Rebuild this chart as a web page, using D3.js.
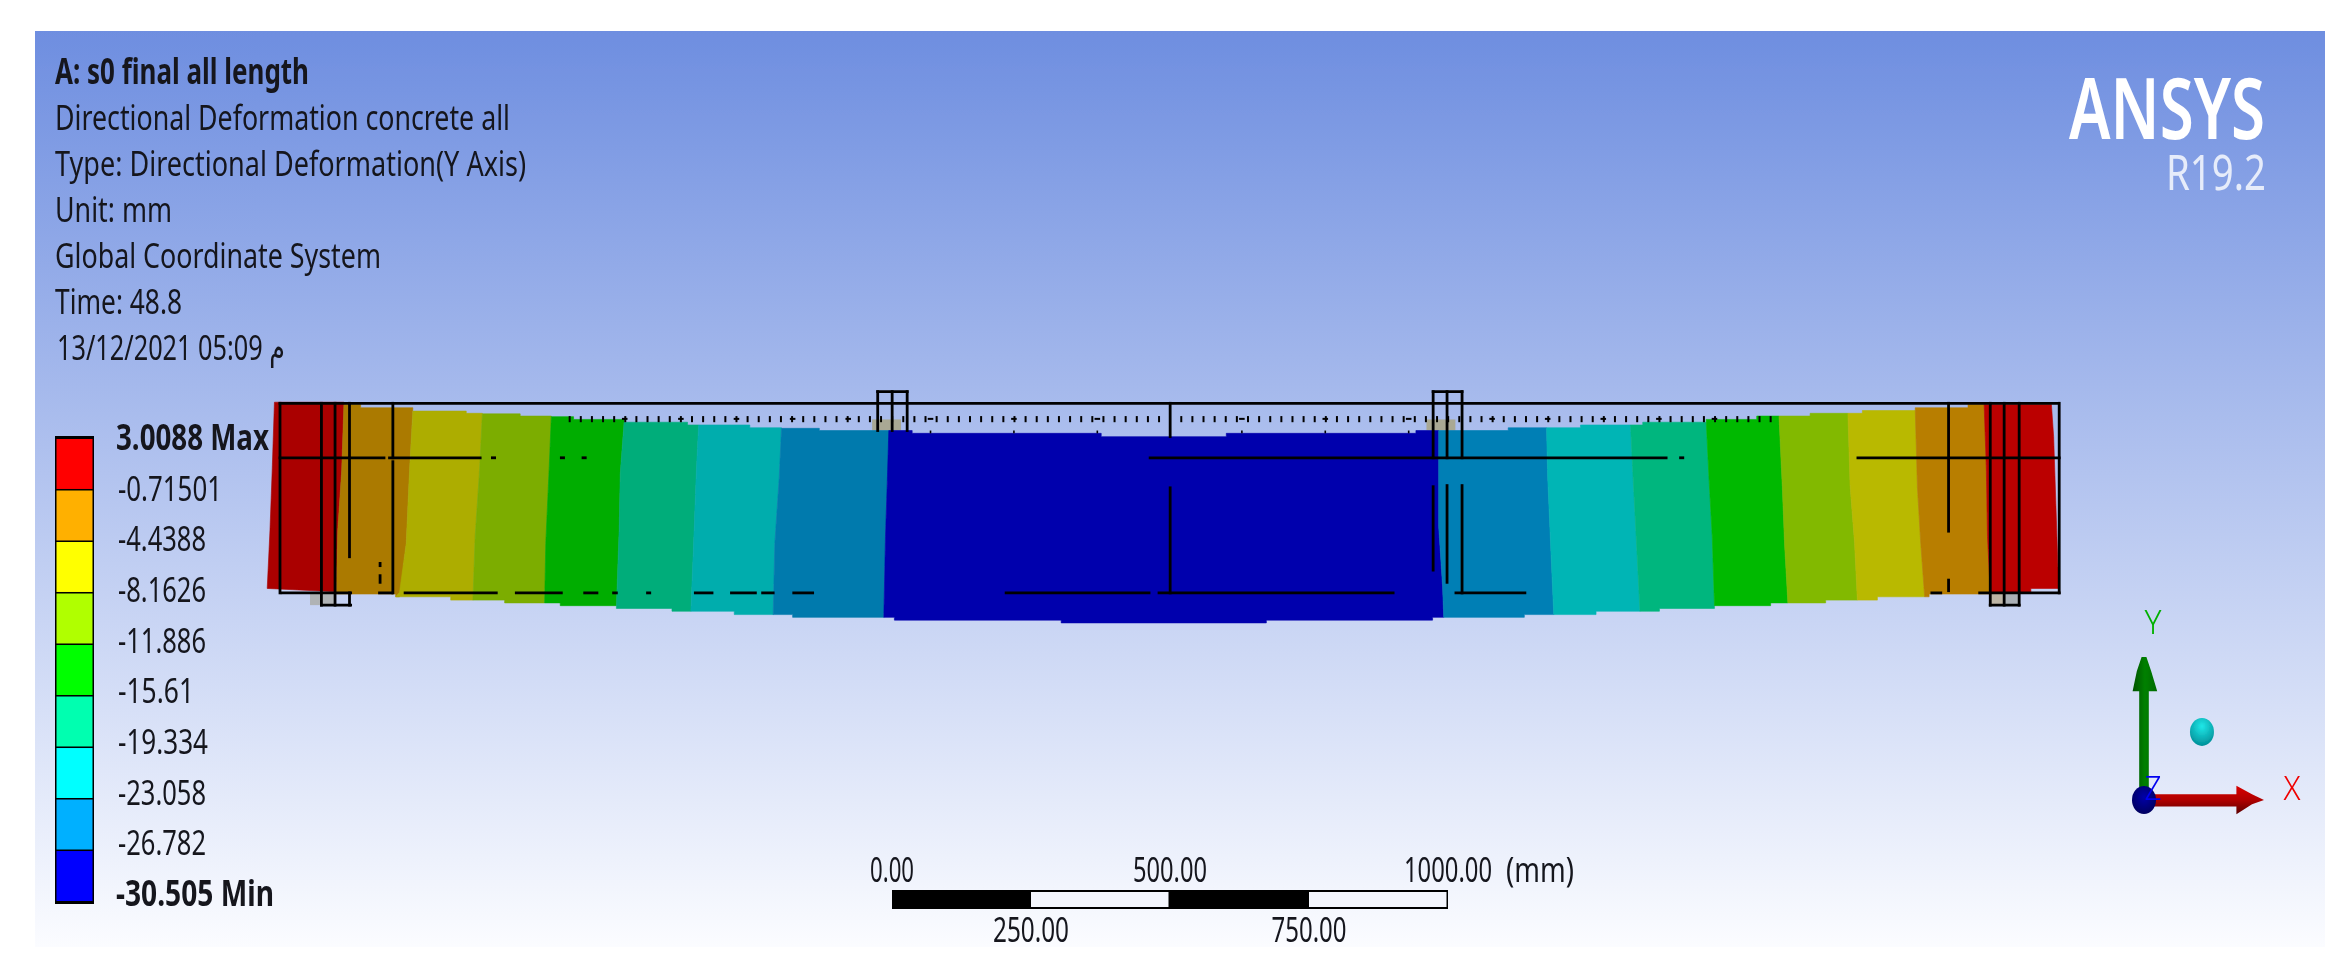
<!DOCTYPE html>
<html>
<head>
<meta charset="utf-8">
<style>
  html, body { margin: 0; padding: 0; background: #fff; }
  svg { display: block; }
  text { font-family: "Noto Sans", "DejaVu Sans", sans-serif; fill: #14161f; }
</style>
</head>
<body>
<script src="https://cdn.jsdelivr.net/npm/d3@7"></script>
<script>
'use strict';
// header text
const headerLines = ["A: s0 final all length", "Directional Deformation concrete all",
    "Type: Directional Deformation(Y Axis)", "Unit: mm", "Global Coordinate System",
    "Time: 48.8", "13/12/2021 05:09 م"];

// legend, top to bottom
const legendLabels = ["3.0088 Max", "-0.71501", "-4.4388", "-8.1626", "-11.886", "-15.61",
    "-19.334", "-23.058", "-26.782", "-30.505 Min"];
const legendColors = ["#ff0000", "#ffb000", "#ffff00", "#b0ff00", "#00ff00", "#00ffb0",
    "#00ffff", "#00b0ff", "#0000ff"];

// contour bands on the beam, left to right
const bandColors = ["#aa0000", "#ab7a00", "#adad00", "#7bad00", "#00ad00", "#00ad7a", "#00adad",
    "#007aad", "#0000ad", "#007fb5", "#00b5b5", "#00b67e", "#00b900", "#82b900", "#b9b900",
    "#b87e00", "#bb0000"];
// outlines as [mm along beam, mm below top line]
const bandOutlines = [
    [[-10,-2],[115,-2],[111,120],[104,228],[101,339],[-23,333],[-18,228],[-14,120]],
    [[115,2],[145,2],[145,8],[239,8],[233,120],[227,252],[215,348],[208,348],[208,343],[101,343],[104,228],[111,120]],
    [[239,14],[335,14],[335,18],[364,18],[359,120],[351,240],[347,354],[307,354],[307,348],[208,348],[215,340],[227,252],[233,120]],
    [[364,19],[432,19],[432,23],[488,23],[484,120],[478,252],[476,359],[404,359],[404,354],[347,354],[351,240],[359,120]],
    [[488,24],[528,24],[528,29],[619,29],[612,126],[610,228],[605,364],[504,364],[504,359],[476,359],[478,252],[484,120]],
    [[619,34],[733,34],[733,39],[753,39],[749,120],[743,276],[739,374],[705,374],[705,369],[605,369],[610,228],[612,126]],
    [[753,39],[845,39],[845,44],[902,44],[898,132],[890,252],[887,380],[817,380],[817,374],[739,374],[743,276],[749,120]],
    [[902,45],[970,45],[970,49],[1096,49],[1093,126],[1089,240],[1086,385],[922,385],[922,380],[887,380],[890,252],[898,132]],
    [[1095,49],[1137,49],[1137,54],[1477,54],[1477,60],[1702,60],[1702,54],[2043,54],[2043,49],[2084,49],[2084,222],[2091,330],[2093,385],[2073,385],[2073,390],[1774,390],[1774,395],[1405,395],[1405,390],[1105,390],[1105,385],[1086,385],[1089,240],[1092,150]],
    [[2084,49],[2209,49],[2209,44],[2278,44],[2280,132],[2286,270],[2291,380],[2238,380],[2238,385],[2093,385],[2091,330],[2084,222]],
    [[2278,44],[2339,44],[2339,39],[2429,39],[2433,120],[2441,276],[2446,374],[2367,374],[2367,380],[2291,380],[2286,270],[2280,132]],
    [[2429,39],[2451,39],[2451,34],[2565,34],[2570,132],[2576,240],[2580,369],[2481,369],[2481,374],[2446,374],[2441,276],[2433,120]],
    [[2565,29],[2656,29],[2656,23],[2696,23],[2702,150],[2706,252],[2712,359],[2681,359],[2681,364],[2580,364],[2576,240],[2570,132]],
    [[2696,23],[2752,23],[2752,18],[2820,18],[2824,150],[2832,252],[2837,354],[2780,354],[2780,359],[2712,359],[2706,252],[2702,150]],
    [[2820,18],[2846,18],[2846,13],[2941,13],[2945,150],[2951,252],[2958,348],[2873,348],[2873,354],[2837,354],[2832,252],[2824,150]],
    [[2941,8],[3036,8],[3036,2],[3065,2],[3069,120],[3071,240],[3076,343],[2966,343],[2966,348],[2958,348],[2951,252],[2945,150]],
    [[3065,2],[3186,2],[3190,60],[3194,180],[3199,333],[3149,333],[3149,340],[3076,340],[3071,240],[3069,120]]
];

// grey plates under the loading and support points: [x1, depth1, x2, depth2, colour]
const plates = [
    [54,343,99,363,"#b0b3b5"], [1065,29,1117,49,"#a9a894"], [2062,29,2114,49,"#a9a894"],
    [3076,343,3101,362,"#bdb5a5"], [3101,343,3128,362,"#abb0b5"]
];

// reinforcement and frame lines that show through: [x1, depth1, x2, depth2]
const rebarLines = [
    [0,0,3199,0], [0,0,0,341], [3200,0,3200,341],
    // middle bar
    [0,98,187,98], [197,98,360,98], [382,98,386,98], [506,98,510,98], [545,98,549,98],
    [1565,98,2493,98], [2519,98,2523,98], [2838,98,3200,98],
    // bottom bar, broken where the mesh hides it
    [4,341,127,341], [179,341,201,341], [225,341,389,341], [425,341,506,341], [548,341,570,341],
    [600,341,605,341], [661,341,665,341], [747,341,777,341], [812,341,855,341], [868,341,887,341],
    [924,341,958,341], [1306,341,1563,341], [1581,341,2002,341], [2115,341,2239,341],
    [2971,341,2987,341], [3057,341,3200,341],
    // verticals, left end
    [74.5,0,74.5,363], [99,0,99,363], [125,0,125,276], [125,341,125,363], [74.5,363,127,363],
    [203,0,203,98], [203,105,203,341], [180,288,180,292], [180,310,180,322],
    // loading plate, left
    [1075,-21,1128,-21], [1075,-21,1075,49], [1101,-21,1101,49], [1128,-21,1128,49],
    // centre line
    [1601,0,1601,60], [1601,152,1601,341],
    // loading plate, right
    [2074,-21,2126,-21], [2074,-21,2074,98], [2099,-21,2099,98], [2126,-21,2126,98],
    [2074,150,2074,300], [2099,148,2099,322], [2126,148,2126,341],
    // right end
    [3001,0,3001,230], [3001,318,3001,337], [3076,0,3076,363], [3101,0,3101,363], [3128,0,3128,363],
    [3076,363,3128,363]
];

// stirrup ticks along the top, mm
const stirrups = [521,541,561,581,601,621,641,661,681,701,721,741,761,781,801,821,841,861,881,901,
    921,941,961,981,1001,1021,1041,1061,1081,1101,1121,1141,1161,1181,1201,1221,1241,1261,1281,
    1301,1321,1341,1361,1381,1401,1421,1441,1461,1481,1501,1521,1541,1561,1581,1621,1641,1661,
    1681,1701,1721,1741,1761,1781,1801,1821,1841,1861,1881,1901,1921,1941,1961,1981,2001,2021,
    2041,2061,2081,2101,2121,2141,2161,2181,2201,2221,2241,2261,2281,2301,2321,2341,2361,2381,
    2401,2421,2441,2461,2481,2501,2521,2541,2561,2581,2601,2621,2641,2661,2681];
const stirrupMajors = [620,721,821,922,1022,1170,1320,1470,1730,1880,2030,2180,2280,2380,2480,2580];
const stirrupPins = [1170,1320,1470,1730,1880,2030];

// scale bar
const scaleTicks = [0, 250, 500, 750, 1000];
const scaleTickLabels = ["0.00", "250.00", "500.00", "750.00", "1000.00"];
const scaleUnit = "(mm)";

// orientation triad
const triadLabels = ["X", "Y", "Z"];

// --- layout, px in the 2347x975 frame ---
const width = 2347, height = 975;
const headerFit = [254, 455, 471, 117, 326, 127, 228];
const legendFit = [153, 104, 88, 88, 88, 76, 90, 88, 88, 158];
const scaleFit = [44, 76, 74, 75, 88];
const fontSize = 35;

const svg = d3.select("body").append("svg")
    .attr("width", width).attr("height", height);

const defs = svg.append("defs");
const bg = defs.append("linearGradient").attr("id", "bg")
    .attr("x1", 0).attr("y1", 0).attr("x2", 0).attr("y2", 1);
bg.append("stop").attr("offset", 0).attr("stop-color", "#6e8ee0");
bg.append("stop").attr("offset", 1).attr("stop-color", "#fbfcff");

function grad(id, stops, vertical) {
    const g = defs.append("linearGradient").attr("id", id)
        .attr("x1", 0).attr("y1", 0)
        .attr("x2", vertical ? 0 : 1).attr("y2", vertical ? 1 : 0);
    stops.forEach((c, i) => g.append("stop").attr("offset", i / (stops.length - 1)).attr("stop-color", c));
}
grad("yArrow", ["#005200", "#008000", "#006a00"], false);
grad("xArrow", ["#d80000", "#b00000", "#5a0000"], true);
const cy = defs.append("radialGradient").attr("id", "cyanBall").attr("cx", 0.5).attr("cy", 0.3).attr("r", 0.7);
cy.append("stop").attr("offset", 0).attr("stop-color", "#20e8e8");
cy.append("stop").attr("offset", 1).attr("stop-color", "#008f98");
const bl = defs.append("radialGradient").attr("id", "blueBall").attr("cx", 0.5).attr("cy", 0.4).attr("r", 0.6);
bl.append("stop").attr("offset", 0).attr("stop-color", "#0000a8");
bl.append("stop").attr("offset", 1).attr("stop-color", "#000060");

// the original is an upscaled screenshot, so everything is a little soft
defs.append("filter").attr("id", "soft").append("feGaussianBlur").attr("stdDeviation", 0.55);

const root = svg.append("g").attr("filter", "url(#soft)");

root.append("rect").attr("x", 35).attr("y", 31).attr("width", 2290).attr("height", 916)
    .attr("fill", "url(#bg)");

// header
root.append("g").selectAll("text").data(headerLines).enter().append("text")
    .attr("x", (d, i) => i == 6 ? 57 : 55)
    .attr("y", (d, i) => 83.5 + i * 46)
    .attr("font-size", fontSize)
    .attr("font-weight", (d, i) => i == 0 ? 700 : 400)
    .attr("textLength", (d, i) => headerFit[i])
    .attr("lengthAdjust", "spacingAndGlyphs")
    .text(d => d);

// logo
root.append("text").attr("x", 2265).attr("y", 139).attr("text-anchor", "end")
    .attr("font-size", 85).attr("font-weight", 600)
    .attr("textLength", 196).attr("lengthAdjust", "spacingAndGlyphs")
    .style("fill", "#fff").text("ANSYS");
root.append("text").attr("x", 2266).attr("y", 190).attr("text-anchor", "end")
    .attr("font-size", 50)
    .attr("textLength", 100).attr("lengthAdjust", "spacingAndGlyphs")
    .style("fill", "#e6ecfa").text("R19.2");

// legend bar
const legendY = d3.scaleBand().domain(legendColors).range([439, 901]).paddingInner(0.03);
root.append("rect").attr("x", 55).attr("y", 436).attr("width", 39).attr("height", 468).attr("fill", "#000");
root.append("g").selectAll("rect").data(legendColors).enter().append("rect")
    .attr("x", 56.5).attr("width", 36)
    .attr("y", d => legendY(d)).attr("height", legendY.bandwidth())
    .attr("fill", d => d);

const labelY = d3.scalePoint().domain(legendLabels).range([450, 906]);
root.append("g").selectAll("text").data(legendLabels).enter().append("text")
    .attr("x", (d, i) => (i == 0 || i == 9) ? 116 : 118)
    .attr("y", d => labelY(d))
    .attr("font-size", fontSize)
    .attr("font-weight", (d, i) => (i == 0 || i == 9) ? 700 : 400)
    .attr("textLength", (d, i) => legendFit[i])
    .attr("lengthAdjust", "spacingAndGlyphs")
    .text(d => d);

// beam, drawn in mm
const x = d3.scaleLinear().domain([0, 1000]).range([280, 836]);
const y = d3.scaleLinear().domain([0, 1000]).range([403.3, 959.3]);
const outline = d3.line().x(d => x(d[0])).y(d => y(d[1])).curve(d3.curveLinearClosed);

const beam = root.append("g");
beam.selectAll(".plate").data(plates).enter().append("rect").attr("class", "plate")
    .attr("x", d => x(d[0])).attr("y", d => y(d[1]))
    .attr("width", d => x(d[2]) - x(d[0])).attr("height", d => y(d[3]) - y(d[1]))
    .attr("fill", d => d[4]);
beam.selectAll(".band").data(bandOutlines).enter().append("path").attr("class", "band")
    .attr("d", outline)
    .attr("fill", (d, i) => bandColors[i])
    .attr("stroke", (d, i) => bandColors[i]).attr("stroke-width", 0.6);
beam.selectAll(".rebar").data(rebarLines).enter().append("line").attr("class", "rebar")
    .attr("x1", d => x(d[0])).attr("y1", d => y(d[1]))
    .attr("x2", d => x(d[2])).attr("y2", d => y(d[3]))
    .attr("stroke", "#000").attr("stroke-width", 2.8).attr("stroke-linecap", "square");
beam.selectAll(".stirrup").data(stirrups).enter().append("line").attr("class", "stirrup")
    .attr("x1", d => x(d)).attr("x2", d => x(d))
    .attr("y1", y(23)).attr("y2", y(34))
    .attr("stroke", "#000").attr("stroke-width", 2);
beam.selectAll(".major").data(stirrupMajors).enter().append("line").attr("class", "major")
    .attr("x1", d => x(d - 5)).attr("x2", d => x(d + 5))
    .attr("y1", y(28)).attr("y2", y(28))
    .attr("stroke", "#000").attr("stroke-width", 2);
beam.selectAll(".pin").data(stirrupPins).enter().append("line").attr("class", "pin")
    .attr("x1", d => x(d)).attr("x2", d => x(d))
    .attr("y1", y(49)).attr("y2", y(54))
    .attr("stroke", "#000").attr("stroke-width", 1.6);

// scale bar
const bar = d3.scaleLinear().domain([0, 1000]).range([892, 1448]);
const scaleG = root.append("g");
scaleG.append("rect").attr("x", bar(0)).attr("y", 890).attr("width", bar(1000) - bar(0)).attr("height", 19).attr("fill", "#000");
scaleG.selectAll(".gap").data([[250, 500], [750, 1000]]).enter().append("rect").attr("class", "gap")
    .attr("x", d => bar(d[0])).attr("width", d => bar(d[1]) - bar(d[0]) - 1.5)
    .attr("y", 892).attr("height", 15).attr("fill", "#f4f6fd");
scaleG.selectAll("text").data(scaleTicks).enter().append("text")
    .attr("x", d => bar(d)).attr("y", (d, i) => i % 2 ? 942 : 881.5)
    .attr("text-anchor", (d, i) => i == 4 ? "start" : "middle")
    .attr("dx", (d, i) => i == 4 ? -44 : 0)
    .attr("font-size", fontSize)
    .attr("textLength", (d, i) => scaleFit[i]).attr("lengthAdjust", "spacingAndGlyphs")
    .text((d, i) => scaleTickLabels[i]);
scaleG.append("text").attr("x", 1506).attr("y", 881.5).attr("font-size", fontSize)
    .attr("textLength", 68).attr("lengthAdjust", "spacingAndGlyphs").text(scaleUnit);

// triad
const tx = d3.scaleLinear().domain([0, 1]).range([2144, 2264]);
const ty = d3.scaleLinear().domain([0, 1]).range([800, 657]);
const triad = root.append("g");
const poly = d3.line().x(d => tx(d[0])).y(d => ty(d[1])).curve(d3.curveLinearClosed);
triad.append("path").attr("fill", "url(#yArrow)")
    .attr("d", poly([[-0.04,0],[-0.04,0.76],[-0.095,0.76],[-0.06,0.9],[-0.02,1],[0.02,1],[0.06,0.9],[0.11,0.76],[0.04,0.76],[0.04,0]]));
triad.append("path").attr("fill", "url(#xArrow)")
    .attr("d", poly([[0,0.04],[0.77,0.04],[0.77,0.1],[0.9,0.04],[1,0],[0.9,-0.03],[0.77,-0.1],[0.77,-0.045],[0,-0.045]]));
triad.append("ellipse").attr("cx", tx(0)).attr("cy", ty(0)).attr("rx", 12).attr("ry", 14).attr("fill", "url(#blueBall)");
triad.append("ellipse").attr("cx", tx(0.483)).attr("cy", ty(0.476)).attr("rx", 12).attr("ry", 14).attr("fill", "url(#cyanBall)");
const triadPos = { X: [1.233, 0.0], Y: [0.075, 1.16], Z: [0.075, 0.0] };
const triadColor = { X: "#f00000", Y: "#00b000", Z: "#0000f0" };
triad.selectAll("text").data(triadLabels).enter().append("text")
    .attr("x", d => tx(triadPos[d][0])).attr("y", d => ty(triadPos[d][1]))
    .attr("text-anchor", "middle")
    .attr("font-size", 33).attr("font-weight", 300)
    .attr("textLength", 17).attr("lengthAdjust", "spacingAndGlyphs")
    .style("fill", d => triadColor[d])
    .text(d => d);
</script>
</body>
</html>
